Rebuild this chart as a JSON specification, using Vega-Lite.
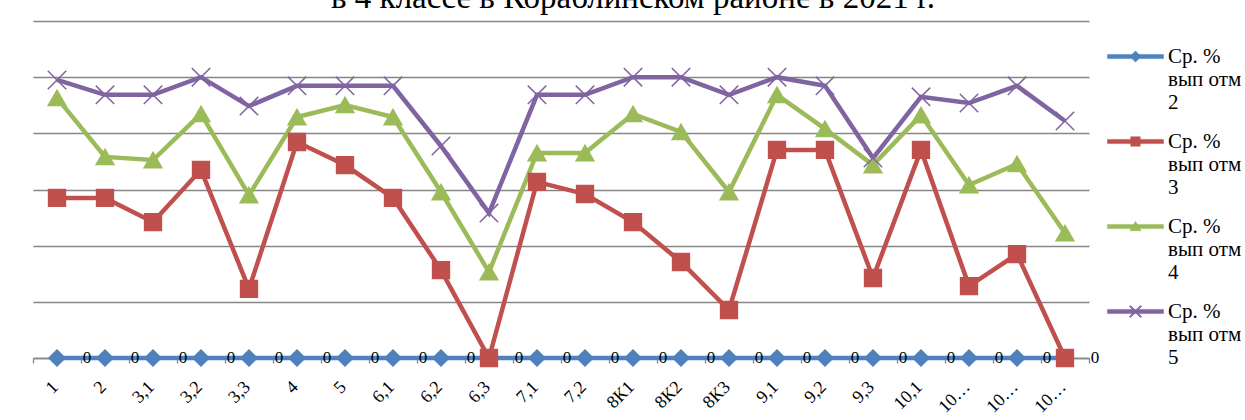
{
  "$schema": "https://vega.github.io/schema/vega-lite/v6.json",
  "autosize": "none",
  "width": 1056,
  "height": 337,
  "padding": {"left": 33, "top": 21, "right": 156, "bottom": 62},
  "background": "white",
  "title": {
    "text": "в 4 классе в Кораблинском районе в 2021 г.",
    "font": "Liberation Serif",
    "fontSize": 33,
    "fontWeight": "normal",
    "color": "black",
    "anchor": "middle",
    "baseline": "alphabetic",
    "offset": 0,
    "dx": 72,
    "dy": 20
  },
  "data": {
    "values": [
      {"cls": "1", "series": "Ср. % вып отм 2", "v": 0}, {"cls": "1", "series": "Ср. % вып отм 3", "v": 57}, {"cls": "1", "series": "Ср. % вып отм 4", "v": 92.6}, {"cls": "1", "series": "Ср. % вып отм 5", "v": 99},
      {"cls": "2", "series": "Ср. % вып отм 2", "v": 0}, {"cls": "2", "series": "Ср. % вып отм 3", "v": 57}, {"cls": "2", "series": "Ср. % вып отм 4", "v": 71.6}, {"cls": "2", "series": "Ср. % вып отм 5", "v": 93.7},
      {"cls": "3,1", "series": "Ср. % вып отм 2", "v": 0}, {"cls": "3,1", "series": "Ср. % вып отм 3", "v": 48.4}, {"cls": "3,1", "series": "Ср. % вып отм 4", "v": 70.5}, {"cls": "3,1", "series": "Ср. % вып отм 5", "v": 93.7},
      {"cls": "3,2", "series": "Ср. % вып отм 2", "v": 0}, {"cls": "3,2", "series": "Ср. % вып отм 3", "v": 67}, {"cls": "3,2", "series": "Ср. % вып отм 4", "v": 86.9}, {"cls": "3,2", "series": "Ср. % вып отм 5", "v": 100},
      {"cls": "3,3", "series": "Ср. % вып отм 2", "v": 0}, {"cls": "3,3", "series": "Ср. % вып отм 3", "v": 24.6}, {"cls": "3,3", "series": "Ср. % вып отм 4", "v": 58}, {"cls": "3,3", "series": "Ср. % вып отм 5", "v": 89.7},
      {"cls": "4", "series": "Ср. % вып отм 2", "v": 0}, {"cls": "4", "series": "Ср. % вып отм 3", "v": 76.9}, {"cls": "4", "series": "Ср. % вып отм 4", "v": 85.8}, {"cls": "4", "series": "Ср. % вып отм 5", "v": 96.9},
      {"cls": "5", "series": "Ср. % вып отм 2", "v": 0}, {"cls": "5", "series": "Ср. % вып отм 3", "v": 68.7}, {"cls": "5", "series": "Ср. % вып отм 4", "v": 90.1}, {"cls": "5", "series": "Ср. % вып отм 5", "v": 96.9},
      {"cls": "6,1", "series": "Ср. % вып отм 2", "v": 0}, {"cls": "6,1", "series": "Ср. % вып отм 3", "v": 57}, {"cls": "6,1", "series": "Ср. % вып отм 4", "v": 85.8}, {"cls": "6,1", "series": "Ср. % вып отм 5", "v": 96.9},
      {"cls": "6,2", "series": "Ср. % вып отм 2", "v": 0}, {"cls": "6,2", "series": "Ср. % вып отм 3", "v": 31.3}, {"cls": "6,2", "series": "Ср. % вып отм 4", "v": 59.1}, {"cls": "6,2", "series": "Ср. % вып отм 5", "v": 75.5},
      {"cls": "6,3", "series": "Ср. % вып отм 2", "v": 0}, {"cls": "6,3", "series": "Ср. % вып отм 3", "v": 0}, {"cls": "6,3", "series": "Ср. % вып отм 4", "v": 30.6}, {"cls": "6,3", "series": "Ср. % вып отм 5", "v": 51.6},
      {"cls": "7,1", "series": "Ср. % вып отм 2", "v": 0}, {"cls": "7,1", "series": "Ср. % вып отм 3", "v": 62.7}, {"cls": "7,1", "series": "Ср. % вып отм 4", "v": 73}, {"cls": "7,1", "series": "Ср. % вып отм 5", "v": 93.7},
      {"cls": "7,2", "series": "Ср. % вып отм 2", "v": 0}, {"cls": "7,2", "series": "Ср. % вып отм 3", "v": 58.4}, {"cls": "7,2", "series": "Ср. % вып отм 4", "v": 73}, {"cls": "7,2", "series": "Ср. % вып отм 5", "v": 93.7},
      {"cls": "8К1", "series": "Ср. % вып отм 2", "v": 0}, {"cls": "8К1", "series": "Ср. % вып отм 3", "v": 48.4}, {"cls": "8К1", "series": "Ср. % вып отм 4", "v": 86.9}, {"cls": "8К1", "series": "Ср. % вып отм 5", "v": 100},
      {"cls": "8К2", "series": "Ср. % вып отм 2", "v": 0}, {"cls": "8К2", "series": "Ср. % вып отм 3", "v": 34.2}, {"cls": "8К2", "series": "Ср. % вып отм 4", "v": 80.5}, {"cls": "8К2", "series": "Ср. % вып отм 5", "v": 100},
      {"cls": "8К3", "series": "Ср. % вып отм 2", "v": 0}, {"cls": "8К3", "series": "Ср. % вып отм 3", "v": 17.1}, {"cls": "8К3", "series": "Ср. % вып отм 4", "v": 59.1}, {"cls": "8К3", "series": "Ср. % вып отм 5", "v": 93.7},
      {"cls": "9,1", "series": "Ср. % вып отм 2", "v": 0}, {"cls": "9,1", "series": "Ср. % вып отм 3", "v": 74.1}, {"cls": "9,1", "series": "Ср. % вып отм 4", "v": 93.7}, {"cls": "9,1", "series": "Ср. % вып отм 5", "v": 100},
      {"cls": "9,2", "series": "Ср. % вып отм 2", "v": 0}, {"cls": "9,2", "series": "Ср. % вып отм 3", "v": 74.1}, {"cls": "9,2", "series": "Ср. % вып отм 4", "v": 81.6}, {"cls": "9,2", "series": "Ср. % вып отм 5", "v": 96.9},
      {"cls": "9,3", "series": "Ср. % вып отм 2", "v": 0}, {"cls": "9,3", "series": "Ср. % вып отм 3", "v": 28.5}, {"cls": "9,3", "series": "Ср. % вып отм 4", "v": 68.7}, {"cls": "9,3", "series": "Ср. % вып отм 5", "v": 71.2},
      {"cls": "10,1", "series": "Ср. % вып отм 2", "v": 0}, {"cls": "10,1", "series": "Ср. % вып отм 3", "v": 74.1}, {"cls": "10,1", "series": "Ср. % вып отм 4", "v": 86.5}, {"cls": "10,1", "series": "Ср. % вып отм 5", "v": 93},
      {"cls": "10,2", "series": "Ср. % вып отм 2", "v": 0}, {"cls": "10,2", "series": "Ср. % вып отм 3", "v": 25.6}, {"cls": "10,2", "series": "Ср. % вып отм 4", "v": 61.6}, {"cls": "10,2", "series": "Ср. % вып отм 5", "v": 90.8},
      {"cls": "10,3", "series": "Ср. % вып отм 2", "v": 0}, {"cls": "10,3", "series": "Ср. % вып отм 3", "v": 37}, {"cls": "10,3", "series": "Ср. % вып отм 4", "v": 69.1}, {"cls": "10,3", "series": "Ср. % вып отм 5", "v": 96.9},
      {"cls": "10,4", "series": "Ср. % вып отм 2", "v": 0}, {"cls": "10,4", "series": "Ср. % вып отм 3", "v": 0}, {"cls": "10,4", "series": "Ср. % вып отм 4", "v": 44.5}, {"cls": "10,4", "series": "Ср. % вып отм 5", "v": 84.4}
    ]
  },
  "encoding": {
    "x": {
      "field": "cls",
      "type": "ordinal",
      "sort": null,
      "scale": {"type": "band", "paddingInner": 0, "paddingOuter": 0},
      "axis": {
        "title": null,
        "labelAngle": -45,
        "labelAlign": "right",
        "labelBaseline": "middle",
        "labelFont": "Liberation Serif",
        "labelFontSize": 18,
        "labelColor": "black",
        "labelPadding": 21,
        "labelOffset": -2,
        "tickSize": 5,
        "tickColor": "#868686",
        "domainColor": "#868686",
        "domainWidth": 1.3,
        "tickWidth": 1.3,
        "tickBand": "extent",
        "grid": false,
        "labelExpr": "indexof(datum.label, '10,') == 0 && datum.label != '10,1' ? '10…' : datum.label"
      }
    },
    "y": {
      "field": "v",
      "type": "quantitative",
      "scale": {"domain": [0, 120], "nice": false},
      "axis": {
        "title": null,
        "labels": false,
        "ticks": false,
        "domain": false,
        "grid": true,
        "values": [0, 20, 40, 60, 80, 100, 120],
        "gridColor": "#868686",
        "gridWidth": 1.3
      }
    }
  },
  "layer": [
    {
      "mark": {"type": "line", "strokeWidth": 4.5},
      "encoding": {
        "color": {
          "field": "series",
          "type": "nominal",
          "scale": {"range": ["#4F81BD", "#C0504D", "#9BBB59", "#8064A2"]},
          "legend": {
            "title": null,
            "orient": "none",
            "legendX": 1074,
            "legendY": 7,
            "padding": 0,
            "labelFont": "Liberation Serif",
            "labelFontSize": 21,
            "labelColor": "black",
            "labelOffset": 4,
            "labelLimit": 300,
            "labelBaseline": "top",
            "rowPadding": -5,
            "symbolSize": 3136,
            "labelExpr": "['Ср. %', 'вып отм', slice(datum.label, -1)]",
            "encode": {
              "labels": {"update": {"lineHeight": {"value": 23}, "dy": {"value": -11}}},
              "symbols": {
                "update": {
                  "shape": {"signal": "slice(datum.value, -1) == '2' ? 'M-1,-0.075L1,-0.075L1,0.075L-1,0.075Z M0,-0.2L0.2,0L0,0.2L-0.2,0Z' : slice(datum.value, -1) == '3' ? 'M-1,-0.075L1,-0.075L1,0.075L-1,0.075Z M-0.17,-0.17L0.17,-0.17L0.17,0.17L-0.17,0.17Z' : slice(datum.value, -1) == '4' ? 'M-1,-0.075L1,-0.075L1,0.075L-1,0.075Z M0,-0.19L0.2,0.15L-0.2,0.15Z' : 'M-1,-0.075L1,-0.075L1,0.075L-1,0.075Z M-0.18,-0.22L0.22,0.18L0.18,0.22L-0.22,-0.18Z M-0.22,0.18L0.18,-0.22L0.22,-0.18L-0.18,0.22Z'"},
                  "fill": {"scale": "color", "field": "value"},
                  "stroke": {"scale": "color", "field": "value"},
                  "strokeWidth": {"value": 0.5},
                  "opacity": {"value": 1},
                  "fillOpacity": {"value": 1}
                }
              }
            }
          }
        }
      }
    },
    {
      "mark": {"type": "point", "filled": true, "strokeWidth": 1.5, "opacity": 1},
      "encoding": {
        "color": {"field": "series", "type": "nominal"},
        "stroke": {
          "field": "series",
          "type": "nominal",
          "scale": {"range": ["#4F81BD", "#C0504D", "#9BBB59", "#8064A2"]},
          "legend": null
        },
        "shape": {
          "field": "series",
          "type": "nominal",
          "scale": {"range": ["diamond", "square", "triangle-up", "M-1,-1L1,1M-1,1L1,-1"]},
          "legend": null
        },
        "size": {
          "field": "series",
          "type": "ordinal",
          "scale": {"range": [256, 340, 400, 256]},
          "legend": null
        }
      }
    },
    {
      "transform": [{"filter": "datum.series == 'Ср. % вып отм 2'"}],
      "mark": {"type": "text", "align": "center", "baseline": "middle", "dx": 30, "font": "Liberation Serif", "fontSize": 17, "color": "black"},
      "encoding": {"text": {"field": "v", "type": "quantitative"}}
    }
  ],
  "config": {
    "view": {"stroke": null}
  }
}
